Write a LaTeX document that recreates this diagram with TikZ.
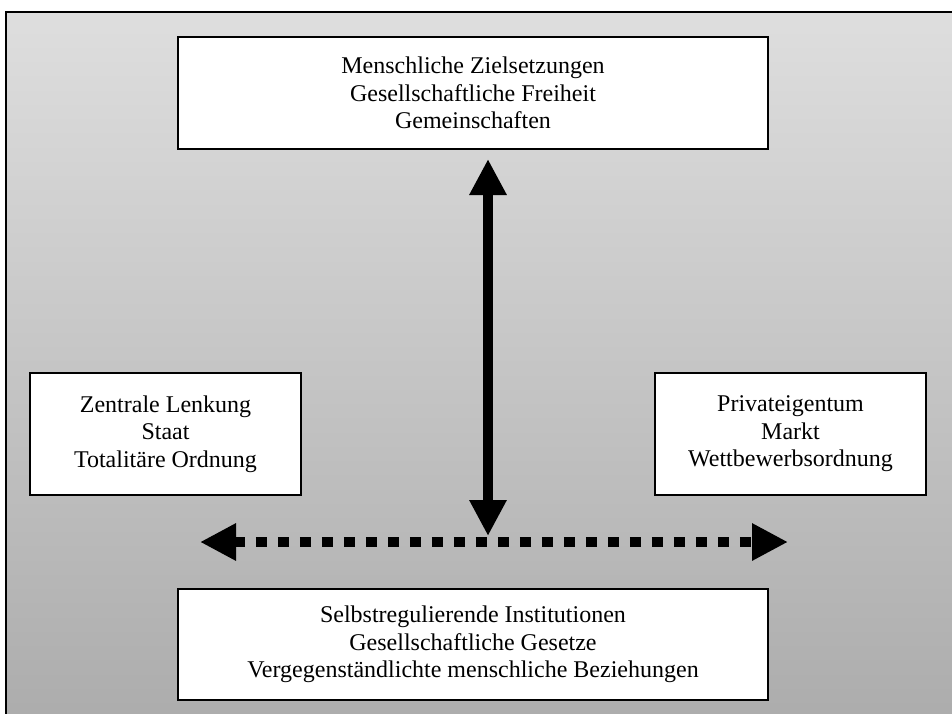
\documentclass[tikz,border=0pt]{standalone}
\usepackage{fontspec}
\setmainfont{Liberation Serif}
\definecolor{bgtop}{RGB}{222,222,222}
\definecolor{bgbottom}{RGB}{172,172,172}
\usetikzlibrary{arrows.meta,positioning,calc}
\tikzset{
  textbox/.style={draw=black, line width=2pt, fill=white, align=center,
                  font=\fontsize{24}{27.5}\selectfont},
  bigtip/.tip={Triangle[width=35pt,length=36pt]},
  bigarrow/.style={line width=10pt, bigtip-bigtip},
  dottedarrow/.style={bigarrow, dash pattern=on 11pt off 11pt}
}

\begin{document}
\begin{tikzpicture}[x=1pt,y=-1pt]
  \useasboundingbox (0,0) rectangle (952,714);
  \clip (0,0) rectangle (952,714);
  \draw[line width=2pt, top color=bgtop, bottom color=bgbottom] (6,12) rectangle (962,724);

  \node[textbox, minimum width=590pt, minimum height=112pt] (goals) at (473,93)
    {Menschliche Zielsetzungen\\Gesellschaftliche Freiheit\\Gemeinschaften};
  \node[textbox, minimum width=271pt, minimum height=122pt] (state) at (165.5,434)
    {Zentrale Lenkung\\Staat\\Totalitäre Ordnung};
  \node[textbox, minimum width=271pt, minimum height=122pt] (market) at (790.5,434)
    {Privateigentum\\Markt\\Wettbewerbsordnung};
  \node[textbox, minimum width=590pt, minimum height=111pt] (institutions) at (473,644.5)
    {Selbstregulierende Institutionen\\Gesellschaftliche Gesetze\\Vergegenständlichte menschliche Beziehungen};

  \coordinate (cross) at (488,542);
  \coordinate (leftend) at (200,542);
  \coordinate (rightend) at (788,542);

  \draw[bigarrow] ([yshift=-9pt]goals.south -| cross) -- ([yshift=6pt]cross);
  \draw[dottedarrow] (leftend) -- (rightend);
\end{tikzpicture}
\end{document}
